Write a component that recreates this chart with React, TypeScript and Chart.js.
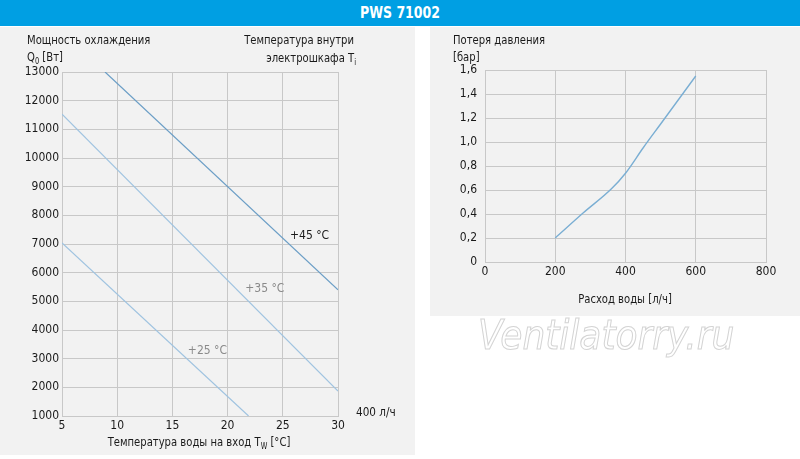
import React, { useEffect, useRef } from "react";
import { Chart, registerables } from "chart.js";

Chart.register(...registerables);

const FONT = "'Liberation Sans Narrow', 'DejaVu Sans Condensed', 'Roboto', sans-serif";
const TEXT = "#1a1a1a";
const GRID = "#c8c8c8";

// Left chart: cooling capacity vs. water inlet temperature (400 l/h)
const line45X = [8.9, 30];
const line45Y = [13000, 5400];
const line35X = [5, 30];
const line35Y = [11530, 1870];
const line25X = [5, 21.9];
const line25Y = [7040, 1000];
const curveLabels = ["+45 °C", "+35 °C", "+25 °C"];
const curveLabelX = [25.65, 21.6, 16.4];
const curveLabelY = [7280, 5430, 3270];
const curveLabelColors = ["#1a1a1a", "#8a8a8a", "#8a8a8a"];

// Right chart: pressure loss vs. water flow
const flowX = [200, 280, 360, 400, 450, 500, 550, 600];
const pressureY = [0.2, 0.41, 0.61, 0.74, 0.95, 1.15, 1.35, 1.55];

const toPts = (xs: number[], ys: number[]) => xs.map((x, i) => ({ x, y: ys[i] }));

const labelPlugin = {
  id: "curveLabels",
  afterDatasetsDraw(chart: any) {
    const { ctx, scales } = chart;
    ctx.save();
    ctx.font = `12px ${FONT}`;
    ctx.textAlign = "left";
    ctx.textBaseline = "middle";
    curveLabels.forEach((t, i) => {
      ctx.fillStyle = curveLabelColors[i];
      ctx.fillText(t, scales.x.getPixelForValue(curveLabelX[i]), scales.y.getPixelForValue(curveLabelY[i]));
    });
    ctx.restore();
  },
};

const tickFont = { family: FONT, size: 12 };

function LeftChart() {
  const ref = useRef<HTMLCanvasElement>(null);
  useEffect(() => {
    const chart = new Chart(ref.current!, {
      type: "scatter",
      data: {
        datasets: [
          { data: toPts(line45X, line45Y), showLine: true, borderColor: "#6b9ec6", borderWidth: 1.2, pointRadius: 0 },
          { data: toPts(line35X, line35Y), showLine: true, borderColor: "#9fc3e0", borderWidth: 1.2, pointRadius: 0 },
          { data: toPts(line25X, line25Y), showLine: true, borderColor: "#9fc3e0", borderWidth: 1.2, pointRadius: 0 },
        ],
      },
      options: {
        responsive: false,
        animation: false,
        layout: { padding: { top: 46, right: 77, bottom: 19, left: 0 } },
        plugins: { legend: { display: false }, tooltip: { enabled: false } },
        scales: {
          x: {
            type: "linear",
            min: 5,
            max: 30,
            afterFit: (s: any) => { s.height = 20; },
            ticks: { stepSize: 5, autoSkip: false, maxRotation: 0, padding: 3, color: TEXT, font: tickFont, callback: (v: any) => String(v) },
            grid: { color: GRID, drawTicks: false, lineWidth: 1 },
            border: { color: GRID },
          },
          y: {
            type: "linear",
            min: 1000,
            max: 13000,
            afterFit: (s: any) => { s.width = 62; },
            ticks: { stepSize: 1000, autoSkip: false, padding: 3, color: TEXT, font: tickFont, callback: (v: any) => String(v) },
            grid: { color: GRID, drawTicks: false, lineWidth: 1 },
            border: { color: GRID },
          },
        },
      },
      plugins: [labelPlugin],
    });
    return () => chart.destroy();
  }, []);
  return <canvas ref={ref} width={415} height={429} style={{ position: "absolute", left: 0, top: 26 }} />;
}

function RightChart() {
  const ref = useRef<HTMLCanvasElement>(null);
  useEffect(() => {
    const chart = new Chart(ref.current!, {
      type: "scatter",
      data: {
        datasets: [
          {
            data: toPts(flowX, pressureY),
            showLine: true,
            borderColor: "#7aaed3",
            borderWidth: 1.4,
            pointRadius: 0,
            cubicInterpolationMode: "monotone",
          },
        ],
      },
      options: {
        responsive: false,
        animation: false,
        layout: { padding: { top: 44, right: 34, bottom: 34, left: 0 } },
        plugins: { legend: { display: false }, tooltip: { enabled: false } },
        scales: {
          x: {
            type: "linear",
            min: 0,
            max: 800,
            afterFit: (s: any) => { s.height = 20; },
            ticks: { stepSize: 200, autoSkip: false, maxRotation: 0, padding: 3, color: TEXT, font: tickFont, callback: (v: any) => String(v) },
            grid: { color: GRID, drawTicks: false, lineWidth: 1 },
            border: { color: GRID },
          },
          y: {
            type: "linear",
            min: 0,
            max: 1.6,
            afterFit: (s: any) => { s.width = 55; },
            ticks: {
              stepSize: 0.2,
              autoSkip: false,
              padding: 8,
              color: TEXT,
              font: tickFont,
              callback: (v: any) => (Number(v) === 0 ? "0" : Number(v).toFixed(1).replace(".", ",")),
            },
            grid: { color: GRID, drawTicks: false, lineWidth: 1 },
            border: { color: GRID },
          },
        },
      },
    });
    return () => chart.destroy();
  }, []);
  return <canvas ref={ref} width={370} height={290} style={{ position: "absolute", left: 430, top: 26 }} />;
}

type Align = "left" | "right" | "center";

function Txt(props: {
  left: number;
  top: number;
  width?: number;
  align?: Align;
  children: React.ReactNode;
  style?: React.CSSProperties;
}) {
  const align = props.align || "left";
  return (
    <div
      style={{
        position: "absolute",
        left: props.left,
        top: props.top,
        width: props.width,
        textAlign: align,
        fontFamily: FONT,
        fontSize: 12,
        lineHeight: "16px",
        color: TEXT,
        whiteSpace: "nowrap",
        transform: "scaleX(0.93)",
        transformOrigin: align === "left" ? "left" : align === "right" ? "right" : "center",
        ...props.style,
      }}
    >
      {props.children}
    </div>
  );
}

const sub: React.CSSProperties = { fontSize: 8, verticalAlign: "-3px" };

export default function App() {
  return (
    <div style={{ position: "absolute", left: 0, top: 0, width: 800, height: 459, background: "#ffffff", overflow: "hidden" }}>
      <div style={{ position: "absolute", left: 0, top: 0, width: 800, height: 26, background: "#009fe3" }} />
      <Txt left={0} top={5} width={800} align="center" style={{ color: "#ffffff", fontWeight: "bold", fontSize: 15 }}>
        PWS 71002
      </Txt>
      <div style={{ position: "absolute", left: 0, top: 27, width: 415, height: 428, background: "#f2f2f2" }} />
      <div style={{ position: "absolute", left: 430, top: 27, width: 370, height: 289, background: "#f2f2f2" }} />
      <LeftChart />
      <RightChart />
      <Txt left={27} top={32}>Мощность охлаждения</Txt>
      <Txt left={27} top={49}>
        Q<span style={sub}>0</span> [Вт]
      </Txt>
      <Txt left={0} top={32} width={354} align="right">Температура внутри</Txt>
      <Txt left={0} top={50} width={356} align="right">
        электрошкафа T<span style={sub}>i</span>
      </Txt>
      <Txt left={0} top={434} width={398} align="center">
        Температура воды на вход T<span style={sub}>W</span> [°C]
      </Txt>
      <Txt left={356} top={404} style={{ fontSize: 12.5 }}>400 л/ч</Txt>
      <Txt left={453} top={32}>Потеря давления</Txt>
      <Txt left={453} top={49}>[бар]</Txt>
      <Txt left={430} top={291} width={390} align="center">Расход воды [л/ч]</Txt>
      <Txt
        left={478}
        top={313}
        style={{
          fontSize: 40,
          lineHeight: "44px",
          fontStyle: "italic",
          color: "#ffffff",
          WebkitTextStroke: "1px #d4d4d4",
          transform: "none",
        }}
      >
        Ventilatorry.ru
      </Txt>
    </div>
  );
}
